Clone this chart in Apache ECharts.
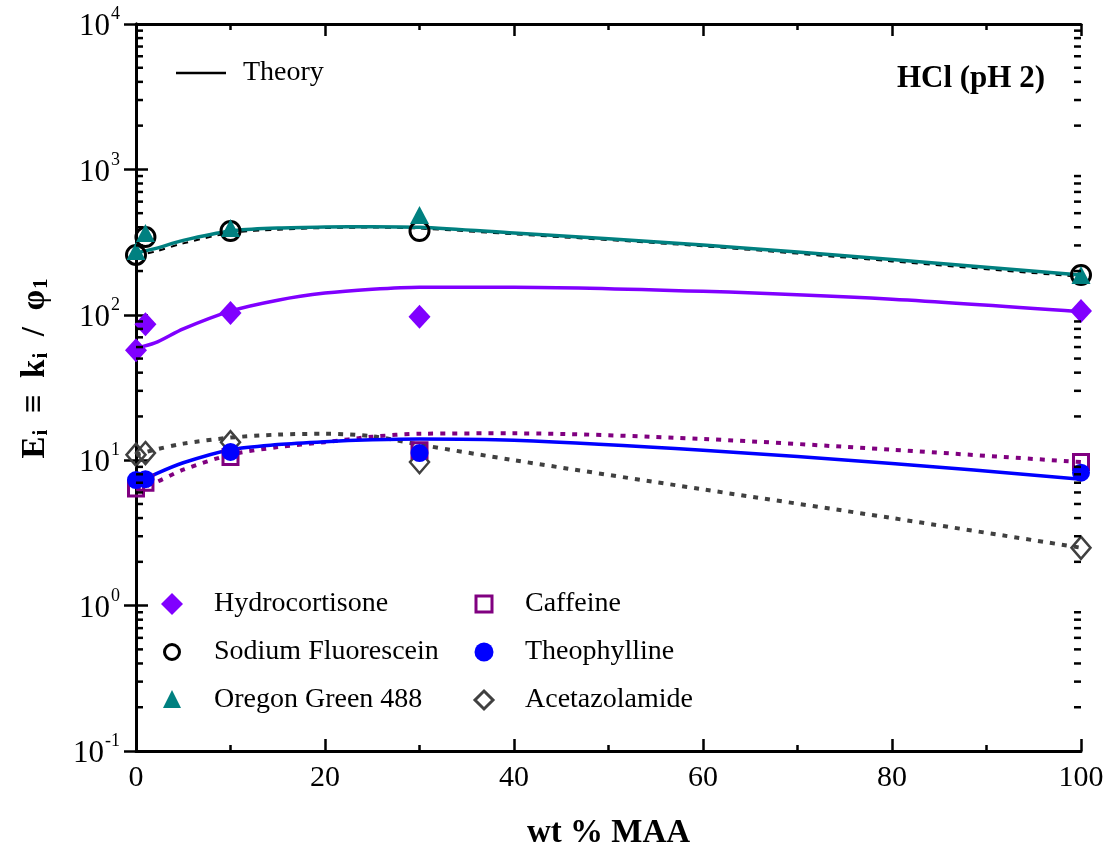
<!DOCTYPE html>
<html><head><meta charset="utf-8">
<script src="https://cdn.jsdelivr.net/npm/echarts@6/dist/echarts.min.js"></script>
<style>html,body{margin:0;padding:0;background:#fff}#c{width:1112px;height:857px}</style>
</head><body><div id="c"></div>
<script>
// ---- data ----
const dataX = [0, 1, 10, 30, 100];
const hydrocortisone    = [57, 86, 103, 97, 106];
const sodiumFluorescein = [258, 343, 377, 377, 188];
const oregonGreen       = [275, 365, 395, 485, 188];
const caffeine          = [6.4, 7.0, 10.5, 11.7, 9.7];
const theophylline      = [7.3, 7.4, 11.4, 11.2, 8.2];
const acetazolamide     = [10.9, 11.2, 13.3, 9.7, 2.5];

const theoryX          = [0, 2, 5, 10, 15, 20, 25, 30, 40, 60, 80, 100];
const thHydrocortisone = [59, 64, 80, 106, 126, 141, 150, 155, 155, 145, 128, 105];
const thSodium         = [255, 272, 310, 365, 385, 395, 398, 392, 358, 296, 233, 182];
const thOregon         = [266, 285, 325, 377, 395, 402, 404, 400, 365, 302, 240, 188];
const thCaffeine       = [6.3, 7.0, 8.6, 10.9, 12.3, 13.3, 14.5, 15.2, 15.3, 14.0, 11.8, 9.7];
const thTheophylline   = [6.9, 8.0, 9.6, 11.8, 12.8, 13.4, 13.8, 14.0, 13.7, 11.7, 9.5, 7.4];
const thAcetazolamide  = [10.9, 11.8, 13.0, 14.3, 15.0, 15.2, 14.6, 12.8, 10.0, 6.3, 4.0, 2.5];

const xTicks = [0, 20, 40, 60, 80, 100];
const yTickExps = [-1, 0, 1, 2, 3, 4];

// ---- styling helpers ----
const FONT = '"Liberation Serif", "Times New Roman", serif';
const pairs = (xs, ys) => xs.map((x, i) => [x, ys[i]]);
const minorVals = [];
for (let e = yTickExps[0]; e < yTickExps[yTickExps.length - 1]; e++)
  for (let m = 2; m <= 9; m++) minorVals.push(m * Math.pow(10, e));

const C = {
  hydro: '#8000ff', teal: '#008080', black: '#000000',
  caff: '#800080', theo: '#0000ff', acet: '#404040'
};

function lineSeries(ys, color, width, type) {
  return {
    type: 'line', data: pairs(theoryX, ys), showSymbol: false, smooth: 0.3,
    clip: false, silent: true, z: 2,
    lineStyle: { color: color, width: width, type: type || 'solid', cap: 'butt' }
  };
}
function scatterSeries(ys, symbol, size, fill, stroke, bw, z) {
  return {
    type: 'scatter', data: pairs(dataX, ys), symbol: symbol, symbolSize: size,
    clip: false, silent: true, z: z || 5,
    itemStyle: { color: fill, borderColor: stroke, borderWidth: bw, opacity: 1 }
  };
}

const axisLine = { show: true, lineStyle: { color: '#000', width: 3 } };

const option = {
  animation: false,
  backgroundColor: '#fff',
  grid: { left: 136, right: 31, top: 24, bottom: 106 },
  xAxis: [
    {
      type: 'value', min: 0, max: 100, interval: 20, position: 'bottom',
      axisLine: axisLine,
      axisTick: { show: true, inside: true, length: 12, lineStyle: { width: 2.5, color: '#000' } },
      minorTick: { show: true, splitNumber: 2, length: 6, lineStyle: { width: 2.5, color: '#000' } },
      splitLine: { show: false },
      axisLabel: { color: '#000', fontFamily: FONT, fontSize: 30, margin: 12,
        formatter: v => xTicks.includes(v) ? String(v) : '' },
      name: 'wt % MAA', nameLocation: 'middle', nameGap: 66,
      nameTextStyle: { color: '#000', fontFamily: FONT, fontSize: 33, fontWeight: 'bold' }
    },
    {
      type: 'value', min: 0, max: 100, interval: 20, position: 'top',
      axisLine: axisLine,
      axisTick: { show: true, inside: true, length: 12, lineStyle: { width: 2.5, color: '#000' } },
      minorTick: { show: true, splitNumber: 2, length: 6, lineStyle: { width: 2.5, color: '#000' } },
      splitLine: { show: false }, axisLabel: { show: false }
    }
  ],
  yAxis: [
    {
      type: 'log', logBase: 10, min: 0.1, max: 10000, position: 'left',
      axisLine: axisLine,
      axisTick: { show: true, inside: true, length: 12, lineStyle: { width: 2.5, color: '#000' } },
      splitLine: { show: false },
      axisLabel: {
        color: '#000', fontFamily: FONT, margin: 16,
        formatter: v => '{b|10}{s|' + Math.round(Math.log10(v)) + '}',
        rich: {
          b: { fontFamily: FONT, fontSize: 31, color: '#000', padding: [6, 0, 0, 0] },
          s: { fontFamily: FONT, fontSize: 18, color: '#000', verticalAlign: 'top', padding: [0, 0, 18, 1] }
        }
      },
      name: '{b|E}{s|i}{b|  ≡  k}{s|i}{b|  /  φ}{s|1}', nameLocation: 'middle', nameGap: 84, nameRotate: 90,
      nameTextStyle: {
        color: '#000', fontFamily: FONT, fontSize: 33, fontWeight: 'bold', padding: [0, 0, 0, 38],
        rich: {
          b: { fontFamily: FONT, fontSize: 33, fontWeight: 'bold', color: '#000' },
          s: { fontFamily: FONT, fontSize: 21, fontWeight: 'bold', color: '#000', padding: [12, 0, 0, 1] }
        }
      }
    },
    {
      type: 'log', logBase: 10, min: 0.1, max: 10000, position: 'right',
      axisLine: axisLine,
      axisTick: { show: true, inside: true, length: 12, lineStyle: { width: 2.5, color: '#000' } },
      splitLine: { show: false }, axisLabel: { show: false }
    }
  ],
  series: [
    lineSeries(thHydrocortisone, C.hydro, 3.5),
    lineSeries(thSodium, C.black, 2, [6, 6]),
    lineSeries(thOregon, C.teal, 3.5),
    lineSeries(thCaffeine, C.caff, 4, [5, 7]),
    lineSeries(thAcetazolamide, C.acet, 4, [5, 7]),
    lineSeries(thTheophylline, C.theo, 3.5),
    scatterSeries(acetazolamide, 'diamond', [19, 22], 'rgba(255,255,255,0)', C.acet, 2.5, 5),
    scatterSeries(caffeine, 'rect', 15, 'rgba(255,255,255,0)', C.caff, 3, 5),
    scatterSeries(theophylline, 'circle', 18, C.theo, C.theo, 0, 6),
    scatterSeries(hydrocortisone, 'diamond', [22, 24], C.hydro, C.hydro, 0, 6),
    scatterSeries(sodiumFluorescein, 'circle', 19, 'rgba(255,255,255,0)', C.black, 3, 6),
    scatterSeries(oregonGreen, 'triangle', [19, 18], C.teal, C.teal, 0, 7),
    {
      type: 'custom', silent: true, z: 10, clip: false,
      data: minorVals.map(v => [0, v]),
      renderItem: (params, api) => {
        const v = api.value(1);
        const pL = api.coord([0, v]);
        const pR = api.coord([100, v]);
        return {
          type: 'group', children: [
            { type: 'line', shape: { x1: pL[0], y1: pL[1], x2: pL[0] + 7, y2: pL[1] }, style: { stroke: '#000', lineWidth: 2.5 } },
            { type: 'line', shape: { x1: pR[0] - 7, y1: pR[1], x2: pR[0], y2: pR[1] }, style: { stroke: '#000', lineWidth: 2.5 } }
          ]
        };
      }
    }
  ],
  graphic: []
};

// ---- legends (graphic) ----
const legendItems = [
  { name: 'Hydrocortisone', col: 0, row: 0, sym: 'diamond', fill: C.hydro, stroke: null },
  { name: 'Sodium Fluorescein', col: 0, row: 1, sym: 'circle', fill: 'none', stroke: C.black },
  { name: 'Oregon Green 488', col: 0, row: 2, sym: 'triangle', fill: C.teal, stroke: null },
  { name: 'Caffeine', col: 1, row: 0, sym: 'rect', fill: 'none', stroke: C.caff },
  { name: 'Theophylline', col: 1, row: 1, sym: 'circle', fill: C.theo, stroke: null },
  { name: 'Acetazolamide', col: 1, row: 2, sym: 'diamond', fill: 'none', stroke: C.acet }
];
const colMarkX = [172, 484], colTextX = [214, 525], rowY = [604, 652, 700];
legendItems.forEach(it => {
  const cx = colMarkX[it.col], cy = rowY[it.row];
  const st = { fill: it.fill, stroke: it.stroke || null, lineWidth: it.stroke ? 3 : 0 };
  let shp;
  if (it.sym === 'diamond') {
    const r = it.stroke ? 9 : 11;
    shp = { type: 'polygon', shape: { points: [[cx, cy - r], [cx + r, cy], [cx, cy + r], [cx - r, cy]] }, style: st };
  } else if (it.sym === 'circle') {
    shp = { type: 'circle', shape: { cx: cx, cy: cy, r: it.stroke ? 7.5 : 9.5 }, style: st };
  } else if (it.sym === 'triangle') {
    shp = { type: 'polygon', shape: { points: [[cx, cy - 10], [cx + 9, cy + 8], [cx - 9, cy + 8]] }, style: st };
  } else {
    shp = { type: 'rect', shape: { x: cx - 8, y: cy - 8, width: 16, height: 16 }, style: st };
  }
  option.graphic.push(shp);
  option.graphic.push({ type: 'text', x: colTextX[it.col], y: cy, style: {
    text: it.name, fill: '#000', font: '28px ' + FONT, textVerticalAlign: 'middle' } });
});
option.graphic.push({ type: 'line', shape: { x1: 176, y1: 73, x2: 226, y2: 73 }, style: { stroke: '#000', lineWidth: 2.5 } });
option.graphic.push({ type: 'text', x: 243, y: 73, style: { text: 'Theory', fill: '#000', font: '28px ' + FONT, textVerticalAlign: 'middle' } });
option.graphic.push({ type: 'text', x: 1045, y: 79, style: { text: 'HCl (pH 2)', fill: '#000', font: 'bold 31px ' + FONT, textAlign: 'right', textVerticalAlign: 'middle' } });

const chart = echarts.init(document.getElementById('c'), null, { renderer: 'canvas' });
chart.setOption(option);
</script></body></html>
